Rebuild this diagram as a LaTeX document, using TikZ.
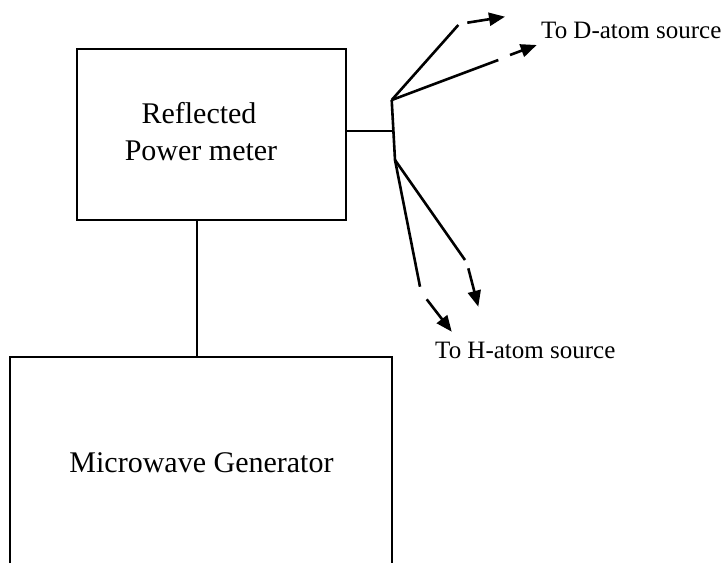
\documentclass[tikz,border=0pt]{standalone}
\usepackage{fontspec}
\setmainfont{Liberation Serif}
\usetikzlibrary{arrows.meta}
\begin{document}
\begin{tikzpicture}[x=1pt,y=-1pt,
  boxline/.style={line width=2.1pt},
  wire/.style={line width=2.6pt},
  feed/.style={line width=2.6pt,-{Triangle[length=16pt,width=13pt]}},
  bigtext/.style={font=\fontsize{30}{36}\selectfont,anchor=base,inner sep=0pt},
  smalltext/.style={font=\fontsize{25}{30}\selectfont,anchor=base west,inner sep=0pt}]
\useasboundingbox (0,0) rectangle (727,563);
% boxes
\node[boxline,draw,minimum width=269pt,minimum height=171pt,inner sep=0pt] (pm) at (211.5,134.5) {};
\node[minimum width=382pt,minimum height=206pt,inner sep=0pt] (gen) at (201,460) {};
\draw[boxline] (gen.south west) -- (gen.north west) -- (gen.north east) -- (gen.south east);
% texts
\node[bigtext] (t1) at (199,123.5) {Reflected};
\node[bigtext] (t2) at (201,160) {Power meter};
\node[bigtext] (t3) at (201.5,472.5) {Microwave Generator};
\node[smalltext] (ld) at (541,38.5) {To D-atom source};
\node[smalltext] (lh) at (435,358) {To H-atom source};
% connector meter - generator
\draw[boxline] ([xshift=-14.5pt]pm.south) -- ([xshift=-14.5pt]pm.south |- gen.north);
% splitter
\coordinate (j1) at (391.7,100);
\coordinate (j2) at (395,160);
\coordinate (tee) at (393.2,131);
\draw[boxline] ([yshift=3.5pt]pm.east) -- (tee);
\draw[wire] (j1) -- (j2);
% D branches
\coordinate (a1) at (458.3,25);
\coordinate (a1s) at (467.3,22.7);
\coordinate (a1e) at (505,16.7);
\coordinate (a2) at (498.3,60);
\coordinate (a2s) at (510,55);
\coordinate (a2e) at (536.7,45);
\draw[wire] (j1) -- (a1);
\draw[feed] (a1s) -- (a1e);
\draw[wire] (j1) -- (a2);
\draw[feed] (a2s) -- (a2e);
% H branches
\coordinate (b1) at (420,286.7);
\coordinate (b1s) at (426.7,299.3);
\coordinate (b1e) at (451.7,331.7);
\coordinate (b2) at (465,260);
\coordinate (b2s) at (468.3,268.3);
\coordinate (b2e) at (478.3,306.7);
\draw[wire] (j2) -- (b1);
\draw[feed] (b1s) -- (b1e);
\draw[wire] (j2) -- (b2);
\draw[feed] (b2s) -- (b2e);
\end{tikzpicture}
\end{document}
